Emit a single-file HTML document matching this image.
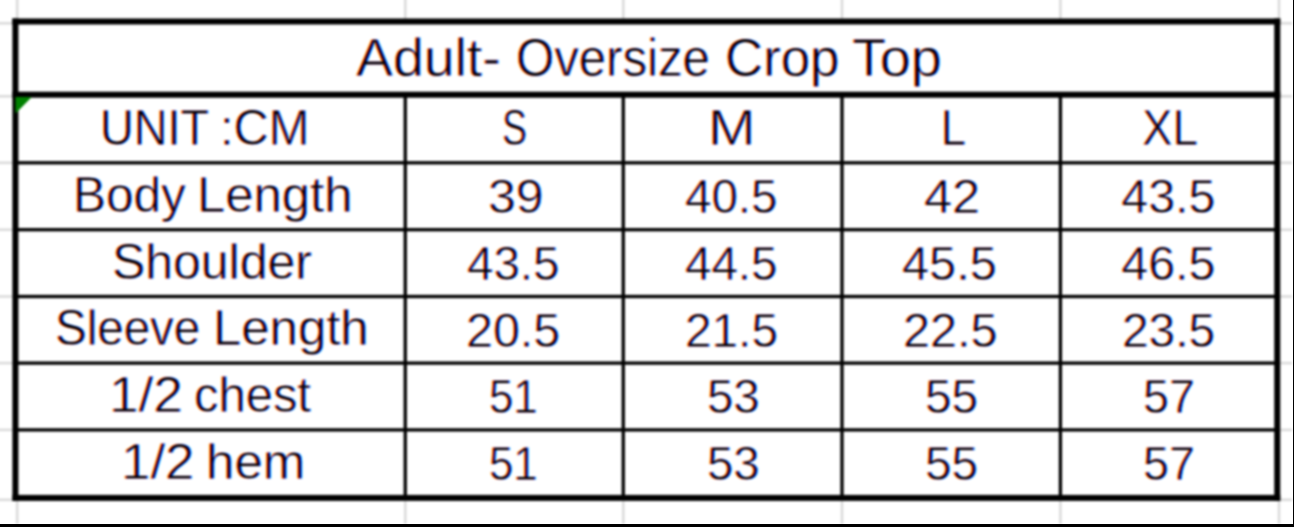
<!DOCTYPE html>
<html><head><meta charset="utf-8"><style>
html,body{margin:0;padding:0;background:#fff;width:1294px;height:527px;overflow:hidden;position:relative}
#w{position:absolute;left:-10px;top:-10px;width:1314px;height:547px;background:#fff;isolation:isolate;filter:blur(0.9px);}
.t{position:absolute;font-family:"Liberation Sans",sans-serif;line-height:1;white-space:pre;color:#000;transform-origin:0 0;-webkit-text-stroke:0.8px #fff;}
.r{color:#00c8ff;mix-blend-mode:multiply}
.g{color:#ff00ff;mix-blend-mode:multiply}
.b{color:#ffb400;mix-blend-mode:multiply}
</style></head><body><div id="w"><div style="position:absolute;left:10px;top:10px">
<svg style="position:absolute;left:-10px;top:-10px" width="1314" height="547"><rect x="25.95" y="0.00" width="2.50" height="534.00" fill="#dadada"/><rect x="414.05" y="0.00" width="2.50" height="534.00" fill="#dadada"/><rect x="632.05" y="0.00" width="2.50" height="534.00" fill="#dadada"/><rect x="850.75" y="0.00" width="2.50" height="534.00" fill="#dadada"/><rect x="1069.15" y="0.00" width="2.50" height="534.00" fill="#dadada"/><rect x="1287.75" y="0.00" width="2.50" height="534.00" fill="#dadada"/><rect x="0.00" y="32.05" width="1302.00" height="2.50" fill="#dadada"/><rect x="0.00" y="105.05" width="1302.00" height="2.50" fill="#dadada"/><rect x="0.00" y="171.55" width="1302.00" height="2.50" fill="#dadada"/><rect x="0.00" y="238.45" width="1302.00" height="2.50" fill="#dadada"/><rect x="0.00" y="305.25" width="1302.00" height="2.50" fill="#dadada"/><rect x="0.00" y="371.85" width="1302.00" height="2.50" fill="#dadada"/><rect x="0.00" y="438.65" width="1302.00" height="2.50" fill="#dadada"/><rect x="0.00" y="508.55" width="1302.00" height="2.50" fill="#dadada"/><rect x="25.40" y="31.50" width="1261.85" height="476.40" fill="#fff"/><rect x="413.60" y="104.70" width="3.30" height="403.20" fill="#000"/><rect x="631.60" y="104.70" width="3.30" height="403.20" fill="#000"/><rect x="850.35" y="104.70" width="3.30" height="403.20" fill="#000"/><rect x="1068.75" y="104.70" width="3.30" height="403.20" fill="#000"/><rect x="25.40" y="171.15" width="1261.85" height="3.30" fill="#000"/><rect x="25.40" y="238.05" width="1261.85" height="3.30" fill="#000"/><rect x="25.40" y="304.85" width="1261.85" height="3.30" fill="#000"/><rect x="25.40" y="371.45" width="1261.85" height="3.30" fill="#000"/><rect x="25.40" y="438.25" width="1261.85" height="3.30" fill="#000"/><rect x="22.40" y="28.50" width="1267.85" height="6.00" fill="#000"/><rect x="22.40" y="101.70" width="1267.85" height="6.00" fill="#000"/><rect x="22.40" y="504.90" width="1267.85" height="6.00" fill="#000"/><rect x="22.40" y="28.50" width="6.00" height="482.40" fill="#000"/><rect x="1284.25" y="28.50" width="6.00" height="482.40" fill="#000"/><polygon points="25.5,107.1 41.8,107.1 25.5,123.4" fill="#008000"/></svg><div class="t r" style="left:356.96px;top:31.43px;font-size:53.3px;transform:scaleX(1.0393)">Adult-</div><div class="t g" style="left:355.96px;top:31.43px;font-size:53.3px;transform:scaleX(1.0393)">Adult-</div><div class="t b" style="left:354.96px;top:31.43px;font-size:53.3px;transform:scaleX(1.0393)">Adult-</div><div class="t r" style="left:517.03px;top:31.43px;font-size:53.3px;transform:scaleX(0.9220)">Oversize</div><div class="t g" style="left:516.03px;top:31.43px;font-size:53.3px;transform:scaleX(0.9220)">Oversize</div><div class="t b" style="left:515.03px;top:31.43px;font-size:53.3px;transform:scaleX(0.9220)">Oversize</div><div class="t r" style="left:725.63px;top:31.43px;font-size:53.3px;transform:scaleX(0.9909)">Crop</div><div class="t g" style="left:724.63px;top:31.43px;font-size:53.3px;transform:scaleX(0.9909)">Crop</div><div class="t b" style="left:723.63px;top:31.43px;font-size:53.3px;transform:scaleX(0.9909)">Crop</div><div class="t r" style="left:852.71px;top:31.43px;font-size:53.3px;transform:scaleX(1.0457)">Top</div><div class="t g" style="left:851.71px;top:31.43px;font-size:53.3px;transform:scaleX(1.0457)">Top</div><div class="t b" style="left:850.71px;top:31.43px;font-size:53.3px;transform:scaleX(1.0457)">Top</div><div class="t r" style="left:101.44px;top:104.27px;font-size:49.8px;transform:scaleX(0.9396)">UNIT</div><div class="t g" style="left:100.44px;top:104.27px;font-size:49.8px;transform:scaleX(0.9396)">UNIT</div><div class="t b" style="left:99.44px;top:104.27px;font-size:49.8px;transform:scaleX(0.9396)">UNIT</div><div class="t r" style="left:220.81px;top:104.27px;font-size:49.8px;transform:scaleX(0.9780)">:CM</div><div class="t g" style="left:219.81px;top:104.27px;font-size:49.8px;transform:scaleX(0.9780)">:CM</div><div class="t b" style="left:218.81px;top:104.27px;font-size:49.8px;transform:scaleX(0.9780)">:CM</div><div class="t r" style="left:502.94px;top:104.27px;font-size:49.8px;transform:scaleX(0.7519)">S</div><div class="t g" style="left:501.94px;top:104.27px;font-size:49.8px;transform:scaleX(0.7519)">S</div><div class="t b" style="left:500.94px;top:104.27px;font-size:49.8px;transform:scaleX(0.7519)">S</div><div class="t r" style="left:709.42px;top:104.27px;font-size:49.8px;transform:scaleX(1.1455)">M</div><div class="t g" style="left:708.42px;top:104.27px;font-size:49.8px;transform:scaleX(1.1455)">M</div><div class="t b" style="left:707.42px;top:104.27px;font-size:49.8px;transform:scaleX(1.1455)">M</div><div class="t r" style="left:941.90px;top:104.27px;font-size:49.8px;transform:scaleX(0.9000)">L</div><div class="t g" style="left:940.90px;top:104.27px;font-size:49.8px;transform:scaleX(0.9000)">L</div><div class="t b" style="left:939.90px;top:104.27px;font-size:49.8px;transform:scaleX(0.9000)">L</div><div class="t r" style="left:1143.45px;top:104.27px;font-size:49.8px;transform:scaleX(0.9161)">XL</div><div class="t g" style="left:1142.45px;top:104.27px;font-size:49.8px;transform:scaleX(0.9161)">XL</div><div class="t b" style="left:1141.45px;top:104.27px;font-size:49.8px;transform:scaleX(0.9161)">XL</div><div class="t r" style="left:74.33px;top:170.97px;font-size:49.8px;transform:scaleX(0.9935)">Body</div><div class="t g" style="left:73.33px;top:170.97px;font-size:49.8px;transform:scaleX(0.9935)">Body</div><div class="t b" style="left:72.33px;top:170.97px;font-size:49.8px;transform:scaleX(0.9935)">Body</div><div class="t r" style="left:198.32px;top:170.97px;font-size:49.8px;transform:scaleX(1.0207)">Length</div><div class="t g" style="left:197.32px;top:170.97px;font-size:49.8px;transform:scaleX(1.0207)">Length</div><div class="t b" style="left:196.32px;top:170.97px;font-size:49.8px;transform:scaleX(1.0207)">Length</div><div class="t r" style="left:489.01px;top:172.23px;font-size:48.3px;transform:scaleX(1.0312)">39</div><div class="t g" style="left:488.01px;top:172.23px;font-size:48.3px;transform:scaleX(1.0312)">39</div><div class="t b" style="left:487.01px;top:172.23px;font-size:48.3px;transform:scaleX(1.0312)">39</div><div class="t r" style="left:686.23px;top:172.23px;font-size:48.3px;transform:scaleX(0.9833)">40.5</div><div class="t g" style="left:685.23px;top:172.23px;font-size:48.3px;transform:scaleX(0.9833)">40.5</div><div class="t b" style="left:684.23px;top:172.23px;font-size:48.3px;transform:scaleX(0.9833)">40.5</div><div class="t r" style="left:925.11px;top:172.23px;font-size:48.3px;transform:scaleX(1.0469)">42</div><div class="t g" style="left:924.11px;top:172.23px;font-size:48.3px;transform:scaleX(1.0469)">42</div><div class="t b" style="left:923.11px;top:172.23px;font-size:48.3px;transform:scaleX(1.0469)">42</div><div class="t r" style="left:1122.30px;top:172.23px;font-size:48.3px;transform:scaleX(1.0000)">43.5</div><div class="t g" style="left:1121.30px;top:172.23px;font-size:48.3px;transform:scaleX(1.0000)">43.5</div><div class="t b" style="left:1120.30px;top:172.23px;font-size:48.3px;transform:scaleX(1.0000)">43.5</div><div class="t r" style="left:113.09px;top:237.67px;font-size:49.8px;transform:scaleX(1.0026)">Shoulder</div><div class="t g" style="left:112.09px;top:237.67px;font-size:49.8px;transform:scaleX(1.0026)">Shoulder</div><div class="t b" style="left:111.09px;top:237.67px;font-size:49.8px;transform:scaleX(1.0026)">Shoulder</div><div class="t r" style="left:467.83px;top:238.93px;font-size:48.3px;transform:scaleX(0.9833)">43.5</div><div class="t g" style="left:466.83px;top:238.93px;font-size:48.3px;transform:scaleX(0.9833)">43.5</div><div class="t b" style="left:465.83px;top:238.93px;font-size:48.3px;transform:scaleX(0.9833)">43.5</div><div class="t r" style="left:686.23px;top:238.93px;font-size:48.3px;transform:scaleX(0.9833)">44.5</div><div class="t g" style="left:685.23px;top:238.93px;font-size:48.3px;transform:scaleX(0.9833)">44.5</div><div class="t b" style="left:684.23px;top:238.93px;font-size:48.3px;transform:scaleX(0.9833)">44.5</div><div class="t r" style="left:903.28px;top:238.93px;font-size:48.3px;transform:scaleX(1.0078)">45.5</div><div class="t g" style="left:902.28px;top:238.93px;font-size:48.3px;transform:scaleX(1.0078)">45.5</div><div class="t b" style="left:901.28px;top:238.93px;font-size:48.3px;transform:scaleX(1.0078)">45.5</div><div class="t r" style="left:1122.30px;top:238.93px;font-size:48.3px;transform:scaleX(1.0000)">46.5</div><div class="t g" style="left:1121.30px;top:238.93px;font-size:48.3px;transform:scaleX(1.0000)">46.5</div><div class="t b" style="left:1120.30px;top:238.93px;font-size:48.3px;transform:scaleX(1.0000)">46.5</div><div class="t r" style="left:55.94px;top:304.37px;font-size:49.8px;transform:scaleX(0.9537)">Sleeve</div><div class="t g" style="left:54.94px;top:304.37px;font-size:49.8px;transform:scaleX(0.9537)">Sleeve</div><div class="t b" style="left:53.94px;top:304.37px;font-size:49.8px;transform:scaleX(0.9537)">Sleeve</div><div class="t r" style="left:213.51px;top:304.37px;font-size:49.8px;transform:scaleX(1.0221)">Length</div><div class="t g" style="left:212.51px;top:304.37px;font-size:49.8px;transform:scaleX(1.0221)">Length</div><div class="t b" style="left:211.51px;top:304.37px;font-size:49.8px;transform:scaleX(1.0221)">Length</div><div class="t r" style="left:467.19px;top:305.63px;font-size:48.3px;transform:scaleX(1.0022)">20.5</div><div class="t g" style="left:466.19px;top:305.63px;font-size:48.3px;transform:scaleX(1.0022)">20.5</div><div class="t b" style="left:465.19px;top:305.63px;font-size:48.3px;transform:scaleX(1.0022)">20.5</div><div class="t r" style="left:686.03px;top:305.63px;font-size:48.3px;transform:scaleX(0.9888)">21.5</div><div class="t g" style="left:685.03px;top:305.63px;font-size:48.3px;transform:scaleX(0.9888)">21.5</div><div class="t b" style="left:684.03px;top:305.63px;font-size:48.3px;transform:scaleX(0.9888)">21.5</div><div class="t r" style="left:903.98px;top:305.63px;font-size:48.3px;transform:scaleX(1.0056)">22.5</div><div class="t g" style="left:902.98px;top:305.63px;font-size:48.3px;transform:scaleX(1.0056)">22.5</div><div class="t b" style="left:901.98px;top:305.63px;font-size:48.3px;transform:scaleX(1.0056)">22.5</div><div class="t r" style="left:1122.73px;top:305.63px;font-size:48.3px;transform:scaleX(0.9899)">23.5</div><div class="t g" style="left:1121.73px;top:305.63px;font-size:48.3px;transform:scaleX(0.9899)">23.5</div><div class="t b" style="left:1120.73px;top:305.63px;font-size:48.3px;transform:scaleX(0.9899)">23.5</div><div class="t r" style="left:109.93px;top:371.07px;font-size:49.8px;transform:scaleX(1.0677)">1/2</div><div class="t g" style="left:108.93px;top:371.07px;font-size:49.8px;transform:scaleX(1.0677)">1/2</div><div class="t b" style="left:107.93px;top:371.07px;font-size:49.8px;transform:scaleX(1.0677)">1/2</div><div class="t r" style="left:194.85px;top:371.07px;font-size:49.8px;transform:scaleX(0.9826)">chest</div><div class="t g" style="left:193.85px;top:371.07px;font-size:49.8px;transform:scaleX(0.9826)">chest</div><div class="t b" style="left:192.85px;top:371.07px;font-size:49.8px;transform:scaleX(0.9826)">chest</div><div class="t r" style="left:490.28px;top:372.33px;font-size:48.3px;transform:scaleX(0.9062)">51</div><div class="t g" style="left:489.28px;top:372.33px;font-size:48.3px;transform:scaleX(0.9062)">51</div><div class="t b" style="left:488.28px;top:372.33px;font-size:48.3px;transform:scaleX(0.9062)">51</div><div class="t r" style="left:708.36px;top:372.33px;font-size:48.3px;transform:scaleX(0.9813)">53</div><div class="t g" style="left:707.36px;top:372.33px;font-size:48.3px;transform:scaleX(0.9813)">53</div><div class="t b" style="left:706.36px;top:372.33px;font-size:48.3px;transform:scaleX(0.9813)">53</div><div class="t r" style="left:926.33px;top:372.33px;font-size:48.3px;transform:scaleX(0.9896)">55</div><div class="t g" style="left:925.33px;top:372.33px;font-size:48.3px;transform:scaleX(0.9896)">55</div><div class="t b" style="left:924.33px;top:372.33px;font-size:48.3px;transform:scaleX(0.9896)">55</div><div class="t r" style="left:1144.40px;top:372.33px;font-size:48.3px;transform:scaleX(0.9667)">57</div><div class="t g" style="left:1143.40px;top:372.33px;font-size:48.3px;transform:scaleX(0.9667)">57</div><div class="t b" style="left:1142.40px;top:372.33px;font-size:48.3px;transform:scaleX(0.9667)">57</div><div class="t r" style="left:122.25px;top:437.77px;font-size:49.8px;transform:scaleX(1.0613)">1/2</div><div class="t g" style="left:121.25px;top:437.77px;font-size:49.8px;transform:scaleX(1.0613)">1/2</div><div class="t b" style="left:120.25px;top:437.77px;font-size:49.8px;transform:scaleX(1.0613)">1/2</div><div class="t r" style="left:206.80px;top:437.77px;font-size:49.8px;transform:scaleX(1.0247)">hem</div><div class="t g" style="left:205.80px;top:437.77px;font-size:49.8px;transform:scaleX(1.0247)">hem</div><div class="t b" style="left:204.80px;top:437.77px;font-size:49.8px;transform:scaleX(1.0247)">hem</div><div class="t r" style="left:490.28px;top:439.03px;font-size:48.3px;transform:scaleX(0.9062)">51</div><div class="t g" style="left:489.28px;top:439.03px;font-size:48.3px;transform:scaleX(0.9062)">51</div><div class="t b" style="left:488.28px;top:439.03px;font-size:48.3px;transform:scaleX(0.9062)">51</div><div class="t r" style="left:708.36px;top:439.03px;font-size:48.3px;transform:scaleX(0.9813)">53</div><div class="t g" style="left:707.36px;top:439.03px;font-size:48.3px;transform:scaleX(0.9813)">53</div><div class="t b" style="left:706.36px;top:439.03px;font-size:48.3px;transform:scaleX(0.9813)">53</div><div class="t r" style="left:926.33px;top:439.03px;font-size:48.3px;transform:scaleX(0.9896)">55</div><div class="t g" style="left:925.33px;top:439.03px;font-size:48.3px;transform:scaleX(0.9896)">55</div><div class="t b" style="left:924.33px;top:439.03px;font-size:48.3px;transform:scaleX(0.9896)">55</div><div class="t r" style="left:1144.40px;top:439.03px;font-size:48.3px;transform:scaleX(0.9667)">57</div><div class="t g" style="left:1143.40px;top:439.03px;font-size:48.3px;transform:scaleX(0.9667)">57</div><div class="t b" style="left:1142.40px;top:439.03px;font-size:48.3px;transform:scaleX(0.9667)">57</div>
</div></div>
<div style="position:absolute;left:1292.9px;top:0;width:1.1px;height:527px;background:#000"></div>
<div style="position:absolute;left:0;top:524.4px;width:1294px;height:2.6px;background:#000"></div>
</body></html>
